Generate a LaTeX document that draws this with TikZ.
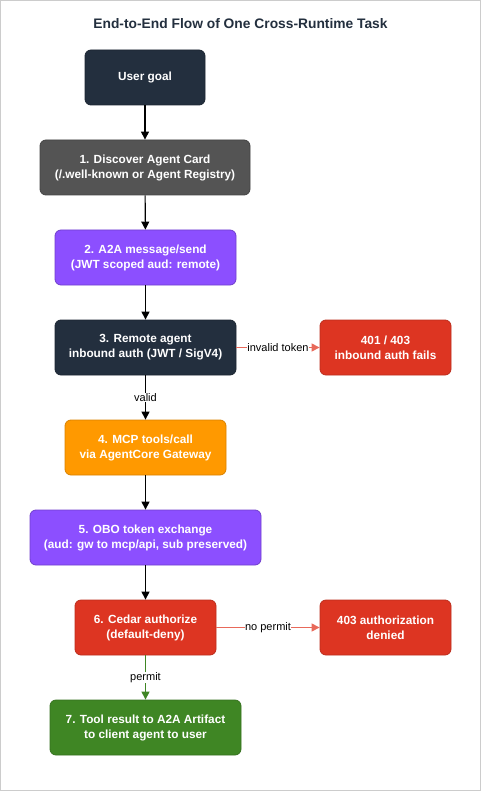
\documentclass[tikz,border=0pt]{standalone}
\usepackage{fontspec}
\setmainfont{Liberation Sans}
\usetikzlibrary{positioning,arrows.meta}
\definecolor{squid}{HTML}{232F3E}
\definecolor{slate}{HTML}{545454}
\definecolor{violet}{HTML}{8C4FFF}
\definecolor{amber}{HTML}{FF9900}
\definecolor{failred}{HTML}{DD3522}
\definecolor{failline}{HTML}{E8695A}
\definecolor{okgreen}{HTML}{3F8624}
\definecolor{frame}{HTML}{CCCCCC}

\begin{document}
\begin{tikzpicture}
  [x=1pt,y=1pt,every node/.style={font=\fontsize{11.8}{15}\selectfont\bfseries,text=white,align=center},
   box/.style={rectangle,rounded corners=6pt,line width=0.8pt,minimum height=55pt},
   ->,>={Triangle[width=8pt,length=8pt]},line width=1.1pt]
  \useasboundingbox (0,0) rectangle (481,-791);
  \draw[-,frame,line width=1pt] (0.5,-0.5) rectangle (480.5,-790.5);

  \node (title) [text=squid,font=\fontsize{13.8}{16}\selectfont\bfseries] at (240.5,-24) {End-to-End Flow of One Cross-Runtime Task};

  \node (goal) [box,fill=squid,draw=squid!80!black,minimum width=120pt] at (145,-77.5) {User goal};
  \node (card) [box,fill=slate,draw=slate!80!black,minimum width=210pt] at (145,-167.5) {1. Discover Agent Card\\(/.well-known or Agent Registry)};
  \node (send) [box,fill=violet,draw=violet!80!black,minimum width=181pt] at (145.5,-257.5) {2. A2A message/send\\(JWT scoped aud: remote)};
  \node (inauth) [box,fill=squid,draw=squid!80!black,minimum width=181pt] at (145.5,-347.5) {3. Remote agent\\inbound auth (JWT / SigV4)};
  \node (authfail) [box,fill=failred,draw=failred!85!black,minimum width=131pt] at (385.5,-347.5) {401 / 403\\inbound auth fails};
  \node (mcp) [box,fill=amber,draw=amber!85!black,minimum width=161pt] at (145.5,-447.5) {4. MCP tools/call\\via AgentCore Gateway};
  \node (obo) [box,fill=violet,draw=violet!80!black,minimum width=231pt] at (145.5,-537.5) {5. OBO token exchange\\(aud: gw to mcp/api, sub preserved)};
  \node (cedar) [box,fill=failred,draw=failred!85!black,minimum width=141pt] at (145.5,-627.5) {6. Cedar authorize\\(default-deny)};
  \node (denied) [box,fill=failred,draw=failred!85!black,minimum width=131pt] at (385.5,-627.5) {403 authorization\\denied};
  \node (result) [box,fill=okgreen,draw=okgreen!85!black,minimum width=191pt] at (145.5,-727.5) {7. Tool result to A2A Artifact\\to client agent to user};

\path[every node/.style={font=\fontsize{11}{13}\selectfont,text=black,fill=white,inner sep=0.5pt}]
(goal) edge (card)
(card) edge (send)
(send) edge (inauth)
(inauth) edge node {valid} (mcp)
(inauth) edge [failline] node {invalid token} (authfail)
(mcp) edge (obo)
(obo) edge (cedar)
(cedar) edge [failline] node {no permit} (denied)
(cedar) edge [okgreen] node {permit} (result);
\end{tikzpicture}
\end{document}
